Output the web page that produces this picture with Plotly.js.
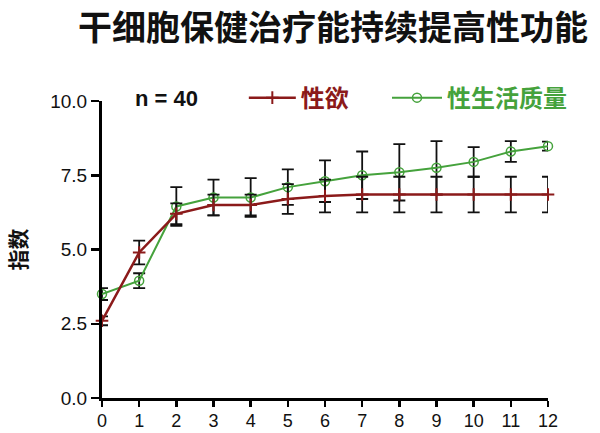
<!DOCTYPE html>
<html><head><meta charset="utf-8">
<script src="https://cdn.plot.ly/plotly-3.0.1.min.js"></script>
<style>body{margin:0;background:#fff}#c{width:600px;height:433px}</style>
</head><body><div id="c"></div>
<script>
const months = [0,1,2,3,4,5,6,7,8,9,10,11,12];
const libido = [2.6,4.9,6.2,6.5,6.5,6.7,6.8,6.85,6.85,6.85,6.85,6.85,6.85];
const libidoErr = [0.15,0.4,0.35,0.35,0.35,0.5,0.55,0.6,0.6,0.6,0.6,0.6,0.6];
const quality = [3.5,3.95,6.45,6.75,6.75,7.1,7.3,7.5,7.6,7.75,7.95,8.3,8.48];
const qualityErr = [0.2,0.25,0.65,0.6,0.65,0.6,0.7,0.8,0.95,0.9,0.5,0.35,0.15];
const xTicks = [0,1,2,3,4,5,6,7,8,9,10,11,12];
const yTicks = [0,2.5,5,7.5,10];
const yTickText = ['0.0','2.5','5.0','7.5','10.0'];

const font = '"Noto Sans CJK SC", "DejaVu Sans", sans-serif';
const tickFont = '"Liberation Sans", Arial, sans-serif';
const red = '#8b1a1a', green = '#45a23c';
const traces = [
  {x: months, y: quality, name: '<b>性生活质量</b>', type: 'scatter', mode: 'lines+markers', legend: 'legend2',
   line: {color: green, width: 2},
   marker: {symbol: 'circle-open', size: 9, color: green, line: {width: 1.5}},
   error_y: {type: 'data', array: qualityErr, visible: true, color: '#111', thickness: 1.8, width: 6},
   cliponaxis: false},
  {x: months, y: libido, name: '<b>性欲</b>', type: 'scatter', mode: 'lines+markers', legend: 'legend',
   line: {color: red, width: 2.5},
   marker: {symbol: 'cross-thin-open', size: 9, color: red, line: {width: 2, color: red}},
   error_y: {type: 'data', array: libidoErr, visible: true, color: '#111', thickness: 1.8, width: 6},
   cliponaxis: false}
];
const layout = {
  width: 600, height: 433,
  margin: {l: 102, r: 52, t: 101, b: 35},
  paper_bgcolor: '#fff', plot_bgcolor: '#fff',
  font: {family: font, color: '#111'},
  title: {text: '<b>干细胞保健治疗能持续提高性功能</b>', font: {size: 34, color: '#111', family: font},
          x: 0.555, xanchor: 'center', y: 0.935, yanchor: 'middle'},
  xaxis: {range: [0, 12], tickvals: xTicks, ticktext: xTicks.map(String), showgrid: false, zeroline: false,
          showline: true, linecolor: '#000', linewidth: 3, ticks: 'outside', ticklen: 6, tickwidth: 2.5,
          tickcolor: '#000', tickfont: {size: 18, family: tickFont, color: '#111'}, ticklabelstandoff: -2},
  yaxis: {range: [0, 10], tickvals: yTicks, ticktext: yTickText, showgrid: false, zeroline: false,
          showline: true, linecolor: '#000', linewidth: 3, ticks: 'outside', ticklen: 8, tickwidth: 2.5,
          tickcolor: '#000', tickfont: {size: 19, family: tickFont, color: '#111'},
          title: {text: '<b>指数</b>', font: {size: 21, family: font, color: '#111'}, standoff: 18}},
  showlegend: true,
  legend: {orientation: 'h', x: 0.318, y: 1.01, xanchor: 'left', yanchor: 'middle',
           font: {size: 24, family: font, color: red}, bgcolor: 'rgba(0,0,0,0)', itemwidth: 47},
  legend2: {orientation: 'h', x: 0.639, y: 1.01, xanchor: 'left', yanchor: 'middle',
           font: {size: 24, family: font, color: green}, bgcolor: 'rgba(0,0,0,0)', itemwidth: 50},
  annotations: [{text: '<b>n = 40</b>', xref: 'paper', yref: 'paper', x: 0.07, y: 1.01, xanchor: 'left',
                 yanchor: 'middle', showarrow: false, font: {size: 22, family: tickFont, color: '#111'}}]
};
Plotly.newPlot('c', traces, layout, {displayModeBar: false, staticPlot: true});
</script></body></html>
